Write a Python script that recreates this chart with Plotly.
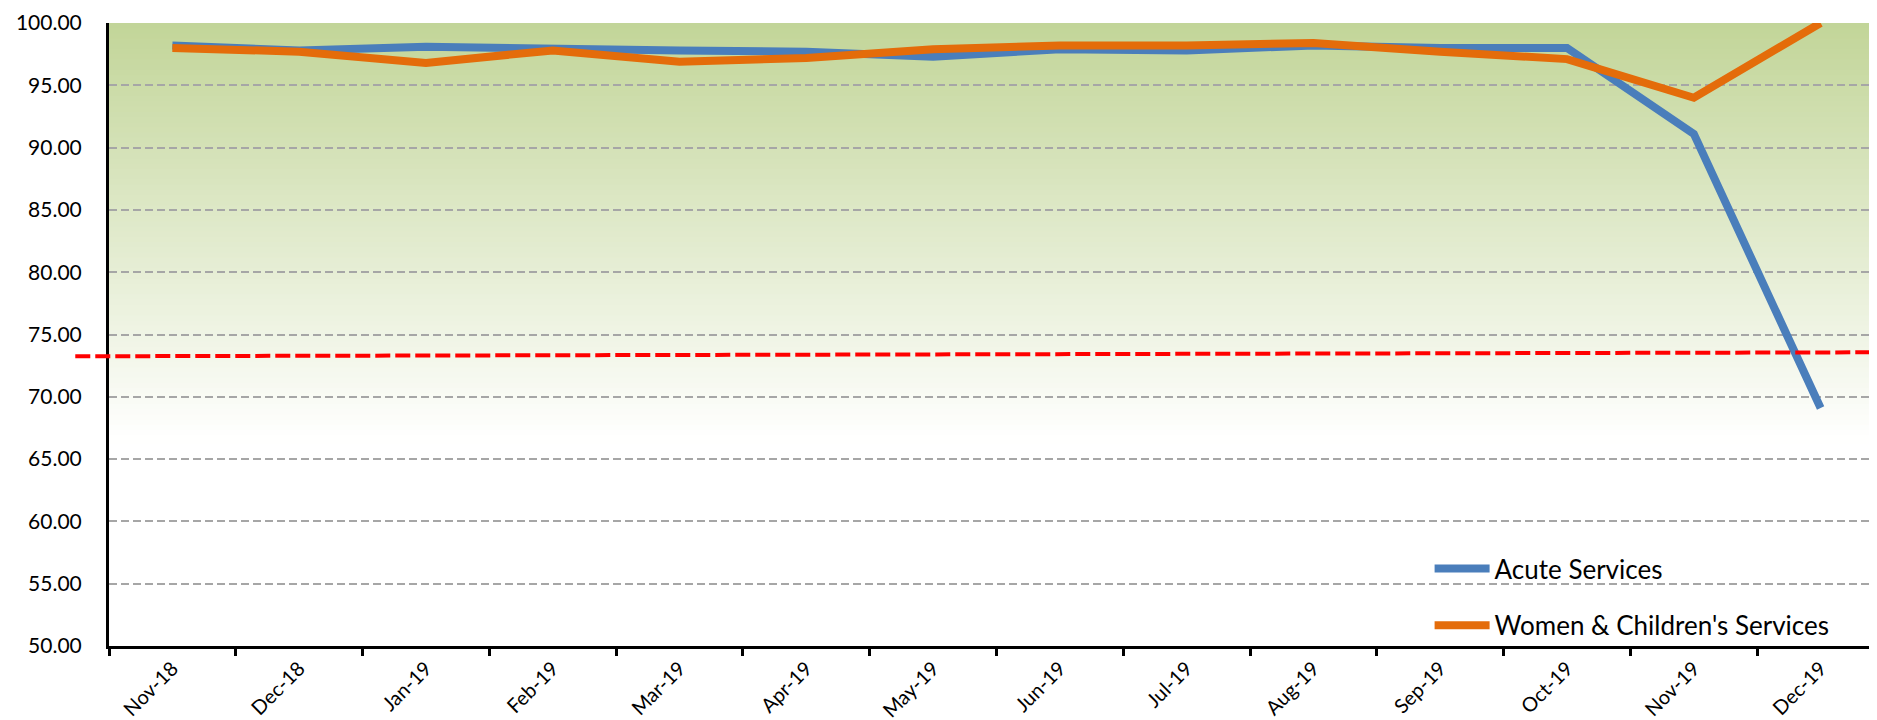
import plotly.graph_objects as go

months = ["Nov-18", "Dec-18", "Jan-19", "Feb-19", "Mar-19", "Apr-19", "May-19",
          "Jun-19", "Jul-19", "Aug-19", "Sep-19", "Oct-19", "Nov-19", "Dec-19"]
acute = [98.2, 97.8, 98.1, 97.9, 97.8, 97.7, 97.3, 97.9, 97.8, 98.2, 98.0, 98.0, 91.1, 69.1]
women = [98.0, 97.7, 96.8, 97.8, 96.9, 97.2, 97.9, 98.2, 98.2, 98.4, 97.7, 97.1, 94.0, 100.0]
target_values = [73.25, 73.57]  # red dashed target line, left and right ends

BLUE = "#4A7EBB"
ORANGE = "#E46C0A"
FONT = "Lato, Carlito, sans-serif"

fig = go.Figure()
fig.add_trace(go.Scatter(x=months, y=acute, mode="lines", name="Acute Services",
                         line=dict(color=BLUE, width=8), legendgroup="a"))
fig.add_trace(go.Scatter(x=months, y=women, mode="lines", name="Women & Children's Services",
                         line=dict(color=ORANGE, width=8), legendgroup="b"))

# gradient background (green at top fading to white)
top_c = (194, 213, 152)
fade_start, fade_end = 100.0, 66.5
n = 80
step = (fade_start - fade_end) / n
shapes = []
for i in range(n):
    v0 = fade_start - step * i
    v1 = fade_start - step * (i + 1)
    t = (i + 0.5) / n
    c = tuple(round(top_c[k] + (255 - top_c[k]) * t) for k in range(3))
    shapes.append(dict(type="rect", xref="paper", yref="y", x0=0, x1=1,
                       y0=v1 - step * 0.6, y1=min(v0, 100.0),
                       fillcolor="rgb(%d,%d,%d)" % c, line=dict(width=0), layer="below"))

shapes.append(dict(type="line", xref="paper", yref="y", x0=-0.019, x1=0.995,
                   y0=target_values[0], y1=target_values[1],
                   line=dict(color="#FF0000", width=4, dash="15px,5px"), layer="above"))

fig.update_layout(
    width=1877, height=720,
    margin=dict(l=101, r=1, t=15, b=82, autoexpand=False),
    paper_bgcolor="white", plot_bgcolor="white",
    shapes=shapes,
    showlegend=True,
    legend=dict(x=0.744, y=0.162, xanchor="left", yanchor="top",
                bgcolor="rgba(0,0,0,0)", font=dict(family=FONT, size=26, color="black"),
                itemwidth=55, traceorder="grouped", tracegroupgap=20),
    font=dict(family=FONT, color="black"),
)
fig.update_xaxes(type="category", range=[-0.5, 13.5], tickangle=-45, automargin=False,
                 tickson="boundaries", ticks="outside", ticklen=7, tickwidth=3, tickcolor="black",
                 showline=True, linecolor="black", linewidth=3, showgrid=False,
                 tickfont=dict(family=FONT, size=20, color="black"), zeroline=False)
fig.update_yaxes(range=[50, 100], dtick=5, tickformat=".2f", automargin=False,
                 showline=True, linecolor="black", linewidth=3,
                 showgrid=True, gridcolor="#A6A6A6", gridwidth=1.5, griddash="8px,4px",
                 ticks="", ticklabelstandoff=20, zeroline=False,
                 tickfont=dict(family=FONT, size=21, color="black"))

fig.write_html("out.html")
